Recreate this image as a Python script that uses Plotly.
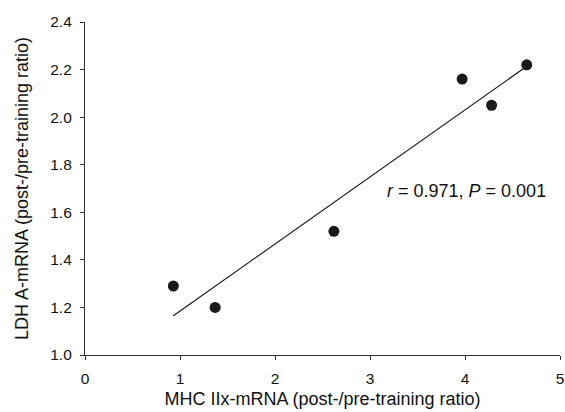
import numpy as np
import plotly.graph_objects as go

mhc_iix = [0.93, 1.37, 2.62, 3.97, 4.28, 4.65]
ldh_a = [1.29, 1.20, 1.52, 2.16, 2.05, 2.22]
x_ticks = [0, 1, 2, 3, 4, 5]
y_ticks = [1.0, 1.2, 1.4, 1.6, 1.8, 2.0, 2.2, 2.4]
stat_text = "<i>r</i> = 0.971, <i>P</i> = 0.001"

slope, intercept = np.polyfit(mhc_iix, ldh_a, 1)
fit_x = [min(mhc_iix), max(mhc_iix)]
fit_y = [slope * v + intercept for v in fit_x]

font_family = "Liberation Sans, Arial, sans-serif"

fig = go.Figure()
fig.add_trace(go.Scatter(x=fit_x, y=fit_y, mode="lines",
                         line=dict(color="#111111", width=1.1), showlegend=False))
fig.add_trace(go.Scatter(x=mhc_iix, y=ldh_a, mode="markers",
                         marker=dict(color="#1a1a1a", size=11), showlegend=False))

fig.add_annotation(x=4.02, y=1.69, text=stat_text, showarrow=False,
                   font=dict(size=18, color="#111111", family=font_family))

axis_common = dict(showgrid=False, zeroline=False, showline=True, linecolor="#333333",
                   linewidth=1.2, ticks="outside", ticklen=4, tickcolor="#333333",
                   automargin=False,
                   tickfont=dict(size=15.5, color="#111111", family=font_family),
                   title_font=dict(size=18, color="#111111", family=font_family))

fig.update_xaxes(range=[0, 5], tickvals=x_ticks, ticktext=[str(v) for v in x_ticks],
                 title_text="MHC IIx-mRNA (post-/pre-training ratio)", title_standoff=6,
                 ticklabelstandoff=5, **axis_common)
fig.update_yaxes(range=[1.0, 2.4], tickvals=y_ticks, ticktext=[f"{v:.1f}" for v in y_ticks],
                 title_text="LDH A-mRNA (post-/pre-training ratio)", title_standoff=16,
                 ticklabelstandoff=5, **axis_common)

fig.update_layout(width=565, height=412, margin=dict(l=85, r=5, t=22, b=57),
                  plot_bgcolor="white", paper_bgcolor="white")

fig.write_html("out.html", post_script="document.body.style.margin='0';",
               config={"displayModeBar": False})
